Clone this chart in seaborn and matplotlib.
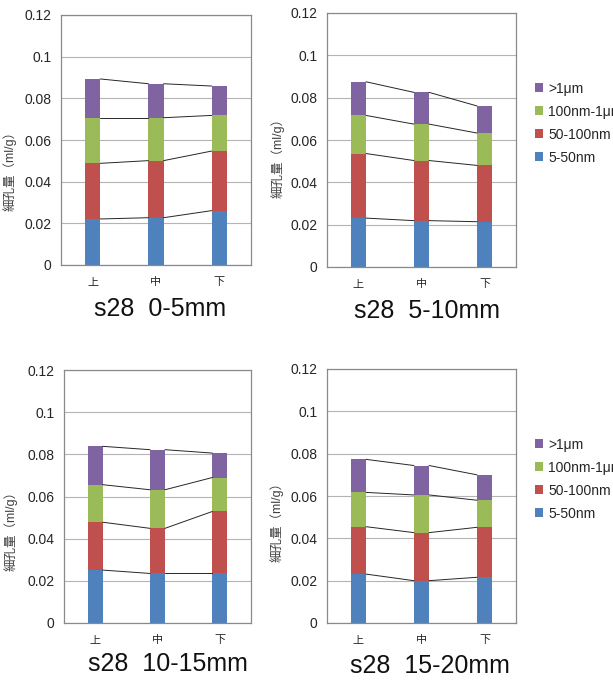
import numpy as np
import pandas as pd
import matplotlib
matplotlib.use("Agg")
import matplotlib.pyplot as plt
import seaborn as sns

# categories
positions = ["上", "中", "下"]
series = ["5-50nm", "50-100nm", "100nm-1μm", ">1μm"]
colors = ["#4F81BD", "#C0504D", "#9BBB59", "#8064A2"]
titles = ["s28  0-5mm", "s28  5-10mm", "s28  10-15mm", "s28  15-20mm"]
ytick_values = [0, 0.02, 0.04, 0.06, 0.08, 0.10, 0.12]
ytick_labels = ["0", "0.02", "0.04", "0.06", "0.08", "0.1", "0.12"]

# segment heights (ml/g), one row per panel, values for 上/中/下
pore_5_50 = [[0.0221, 0.0227, 0.0261],
             [0.0231, 0.0219, 0.0214],
             [0.0251, 0.0235, 0.0235],
             [0.0231, 0.0200, 0.0216]]
pore_50_100 = [[0.0267, 0.0274, 0.0286],
               [0.0305, 0.0284, 0.0266],
               [0.0227, 0.0214, 0.0294],
               [0.0224, 0.0227, 0.0236]]
pore_100_1u = [[0.0219, 0.0206, 0.0171],
               [0.0180, 0.0172, 0.0153],
               [0.0178, 0.0183, 0.0161],
               [0.0162, 0.0178, 0.0128]]
pore_1u = [[0.0186, 0.0163, 0.0141],
           [0.0159, 0.0150, 0.0128],
           [0.0182, 0.0190, 0.0116],
           [0.0156, 0.0139, 0.0120]]

sns.set_style("white")
plt.rcParams["font.family"] = ["Liberation Sans", "Noto Sans CJK JP"]

W, H = 613, 689
fig = plt.figure(figsize=(W / 100, H / 100), dpi=100)

# axes boxes in pixels: left, top, right, bottom
boxes = [(61, 15, 251, 265), (327, 13, 516, 267),
         (64, 370, 251, 623), (327, 369, 516, 623)]
ylabel_pos = [(-0.268, 0.39), (-0.26, 0.44), (-0.283, 0.375), (-0.265, 0.41)]
title_pos = [(160, 316), (427, 318), (168, 671), (430, 673)]
bar_w = 0.24

for p in range(4):
    l, t, r, b = boxes[p]
    ax = fig.add_axes([l / W, 1 - b / H, (r - l) / W, (b - t) / H])

    df = pd.DataFrame({"position": positions,
                       series[0]: pore_5_50[p],
                       series[1]: pore_50_100[p],
                       series[2]: pore_100_1u[p],
                       series[3]: pore_1u[p]})
    cum = df[series].cumsum(axis=1)
    cum["position"] = df["position"]

    # stacked bars: draw tallest first, then cover with lower stacks
    for k in range(len(series) - 1, -1, -1):
        sns.barplot(data=cum, x="position", y=series[k], order=positions,
                    color=colors[k], width=bar_w, saturation=1, linewidth=0,
                    label=series[k], ax=ax)
        # series lines joining the bar tops
        c = cum[series[k]].values
        for i in range(len(positions) - 1):
            ax.plot([i + bar_w / 2, i + 1 - bar_w / 2], [c[i], c[i + 1]],
                    color="#262626", lw=0.7, zorder=3)

    ax.set_xlim(-0.5, 2.5)
    ax.set_ylim(0, 0.12)
    ax.set_yticks(ytick_values)
    ax.set_yticklabels(ytick_labels)
    ax.yaxis.grid(True, color="#B4B4B4", lw=0.8)
    ax.set_axisbelow(True)
    for s in ax.spines.values():
        s.set_color("#8A8A8A")
        s.set_linewidth(0.9)
    ax.tick_params(axis="y", length=0, pad=7, labelsize=10, labelcolor="#262626")
    ax.tick_params(axis="x", length=0, pad=9, labelsize=8, labelcolor="#262626")
    ax.set_xlabel("")
    ax.set_ylabel("細孔量（ml/g）", fontsize=9, color="#404040")
    ax.yaxis.set_label_coords(*ylabel_pos[p])
    ax.yaxis.label.set_va("center")

    if p in (1, 3):
        handles, labels = ax.get_legend_handles_labels()
        ax.legend(handles, labels, loc="upper left", bbox_to_anchor=(1.1, 0.73),
                  frameon=False, fontsize=10, handlelength=0.6, handleheight=0.6,
                  handletextpad=0.35, labelspacing=0.65, borderaxespad=0,
                  borderpad=0)
    else:
        ax.get_legend().remove()

    tx, ty = title_pos[p]
    fig.text(tx / W, 1 - ty / H, titles[p], ha="center", va="baseline",
             fontsize=18, color="#111111")

fig.savefig("out.png", dpi=100)
